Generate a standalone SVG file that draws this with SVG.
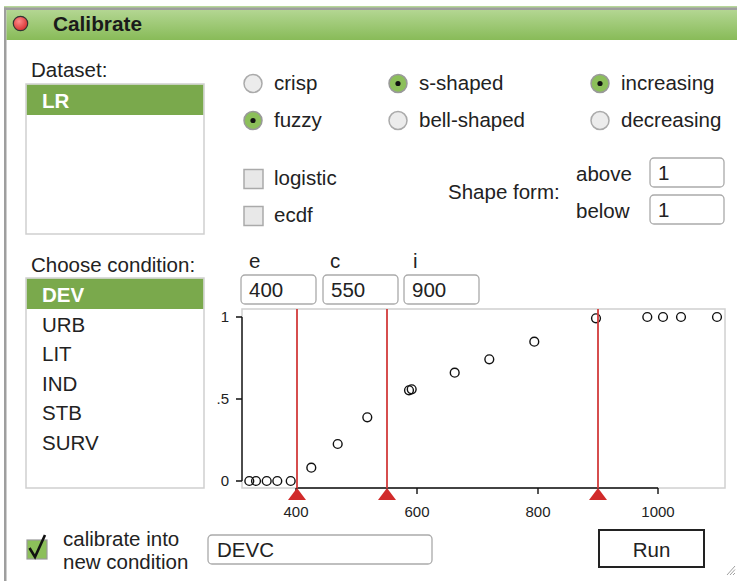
<svg xmlns="http://www.w3.org/2000/svg" width="737" height="581" viewBox="0 0 737 581">
  <defs>
    <linearGradient id="titleGrad" x1="0" y1="0" x2="0" y2="1">
      <stop offset="0" stop-color="#b3d692"/>
      <stop offset="1" stop-color="#88bb58"/>
    </linearGradient>
    <radialGradient id="closeGrad" cx="0.4" cy="0.35" r="0.7">
      <stop offset="0" stop-color="#ff8a8a"/>
      <stop offset="1" stop-color="#d42a2a"/>
    </radialGradient>
    <style>
      text { font-family: "Liberation Sans", Arial, sans-serif; fill: #222; }
      .lbl { font-size: 20.5px; }
      .tick { font-size: 15px; }
      .sel { fill: #fff; font-weight: bold; font-size: 20.5px; }
      .list { fill: #fff; stroke: #cfcfcf; stroke-width: 1.5; }
      .hl { fill: #7aa94c; }
      .radio { fill: #ececec; stroke: #aaa; stroke-width: 1.5; }
      .radio-on { fill: #8cbf5a; stroke: #999; stroke-width: 1.5; }
      .dot { fill: #111; }
      .chk { fill: #e8e8e8; stroke: #aaa; stroke-width: 1.5; }
      .field { fill: #fff; stroke: #aaa; stroke-width: 1.3; }
      .pt { fill: none; stroke: #111; stroke-width: 1.4; }
      .axis { stroke: #111; stroke-width: 1.4; fill: none; }
      .thr { stroke: #d23a3a; stroke-width: 1.8; }
      .tri { fill: #d12a2a; }
    </style>
  </defs>

  <!-- window frame and title bar -->
  <g id="window">
    <rect x="0" y="0" width="737" height="581" fill="#fff"/>
    <rect x="4" y="6" width="733" height="2" fill="#b7d79a"/>
    <rect x="4" y="7.5" width="733" height="2.5" fill="#9e9e9e"/>
    <rect x="4" y="7.5" width="2.5" height="574" fill="#9e9e9e"/>
    <rect x="6.5" y="10" width="731" height="30" fill="url(#titleGrad)"/>
    <circle cx="20.5" cy="23.5" r="7.2" fill="url(#closeGrad)" stroke="#333" stroke-width="1.2"/>
    <text x="53" y="30.5" font-size="20.8" font-weight="bold" style="fill:#1a1a1a">Calibrate</text>
  </g>

  <!-- dataset list -->
  <g id="dataset">
    <text class="lbl" x="31" y="77">Dataset:</text>
    <rect class="list" x="26" y="84" width="178" height="150"/>
    <rect class="hl" x="26.8" y="84.8" width="176.4" height="30.2"/>
    <text class="sel" x="42" y="108">LR</text>
  </g>

  <!-- calibration type radios -->
  <g id="type-radios">
    <circle class="radio" cx="253" cy="83.5" r="9"/>
    <text class="lbl" x="274" y="90">crisp</text>
    <circle class="radio-on" cx="253" cy="120.5" r="9"/>
    <circle class="dot" cx="253" cy="120.5" r="2.6"/>
    <text class="lbl" x="274" y="127">fuzzy</text>
  </g>

  <!-- shape radios -->
  <g id="shape-radios">
    <circle class="radio-on" cx="398" cy="83.5" r="9"/>
    <circle class="dot" cx="398" cy="83.5" r="2.6"/>
    <text class="lbl" x="419" y="90">s-shaped</text>
    <circle class="radio" cx="398" cy="120.5" r="9"/>
    <text class="lbl" x="419" y="127">bell-shaped</text>
  </g>

  <!-- direction radios -->
  <g id="direction-radios">
    <circle class="radio-on" cx="600" cy="83.5" r="9"/>
    <circle class="dot" cx="600" cy="83.5" r="2.6"/>
    <text class="lbl" x="621" y="90">increasing</text>
    <circle class="radio" cx="600" cy="120.5" r="9"/>
    <text class="lbl" x="621" y="127">decreasing</text>
  </g>

  <!-- method checkboxes -->
  <g id="method-checks">
    <rect class="chk" x="244" y="169.5" width="19" height="19"/>
    <text class="lbl" x="274" y="185">logistic</text>
    <rect class="chk" x="244" y="206.5" width="19" height="19"/>
    <text class="lbl" x="274" y="222">ecdf</text>
  </g>

  <!-- shape form inputs -->
  <g id="shape-form">
    <text class="lbl" x="448" y="199">Shape form:</text>
    <text class="lbl" x="576" y="181">above</text>
    <text class="lbl" x="576" y="218">below</text>
    <rect class="field" x="650" y="158" width="74" height="29" rx="4"/>
    <text class="lbl" x="658" y="180">1</text>
    <rect class="field" x="650" y="195" width="74" height="29" rx="4"/>
    <text class="lbl" x="658" y="217">1</text>
  </g>

  <!-- condition list -->
  <g id="conditions">
    <text class="lbl" x="31" y="272">Choose condition:</text>
    <rect class="list" x="26" y="278" width="178" height="210"/>
    <rect class="hl" x="26.8" y="278.8" width="176.4" height="30.2"/>
    <text class="sel" x="42" y="302">DEV</text>
    <text class="lbl" x="42" y="332">URB</text>
    <text class="lbl" x="42" y="361">LIT</text>
    <text class="lbl" x="42" y="391">IND</text>
    <text class="lbl" x="42" y="420">STB</text>
    <text class="lbl" x="42" y="450">SURV</text>
  </g>

  <!-- threshold inputs -->
  <g id="thresholds">
    <text class="lbl" x="249" y="268">e</text>
    <text class="lbl" x="330" y="268">c</text>
    <text class="lbl" x="413" y="268">i</text>
    <rect class="field" x="241" y="275" width="75" height="29" rx="4"/>
    <text class="lbl" x="249" y="297">400</text>
    <rect class="field" x="323" y="275" width="75" height="29" rx="4"/>
    <text class="lbl" x="331" y="297">550</text>
    <rect class="field" x="404" y="275" width="75" height="29" rx="4"/>
    <text class="lbl" x="412" y="297">900</text>
  </g>

  <!-- calibration plot -->
  <g id="plot">
    <rect x="242" y="309" width="483" height="179" fill="#fff" stroke="#d0d0d0" stroke-width="1.5"/>
    <!-- y axis -->
    <path class="axis" d="M242 317 V481 M236 317 H242 M236 399 H242 M236 481 H242"/>
    <text class="tick" x="229" y="322" text-anchor="end">1</text>
    <text class="tick" x="229" y="404" text-anchor="end">.5</text>
    <text class="tick" x="229" y="486" text-anchor="end">0</text>
    <!-- x axis -->
    <path class="axis" d="M296 488 H658 M296 488 V494 M417 488 V494 M538 488 V494 M658 488 V494"/>
    <text class="tick" x="296" y="517" text-anchor="middle">400</text>
    <text class="tick" x="417" y="517" text-anchor="middle">600</text>
    <text class="tick" x="538" y="517" text-anchor="middle">800</text>
    <text class="tick" x="658" y="517" text-anchor="middle">1000</text>
    <!-- data points -->
    <g>
      <circle class="pt" cx="249.3" cy="481" r="4.4"/>
      <circle class="pt" cx="256" cy="481" r="4.4"/>
      <circle class="pt" cx="266.7" cy="481" r="4.4"/>
      <circle class="pt" cx="277.3" cy="481" r="4.4"/>
      <circle class="pt" cx="290.7" cy="481" r="4.4"/>
      <circle class="pt" cx="311.3" cy="467.7" r="4.4"/>
      <circle class="pt" cx="337.7" cy="444" r="4.4"/>
      <circle class="pt" cx="367.3" cy="417.3" r="4.4"/>
      <circle class="pt" cx="409" cy="390.3" r="4.4"/>
      <circle class="pt" cx="411.7" cy="389.3" r="4.4"/>
      <circle class="pt" cx="454.7" cy="372.7" r="4.4"/>
      <circle class="pt" cx="489.3" cy="359.3" r="4.4"/>
      <circle class="pt" cx="534.3" cy="341.7" r="4.4"/>
      <circle class="pt" cx="596" cy="318.3" r="4.4"/>
      <circle class="pt" cx="647.3" cy="317" r="4.4"/>
      <circle class="pt" cx="663" cy="317" r="4.4"/>
      <circle class="pt" cx="681" cy="317" r="4.4"/>
      <circle class="pt" cx="717" cy="317" r="4.4"/>
    </g>
    <!-- threshold markers -->
    <line class="thr" x1="297" y1="309" x2="297" y2="488"/>
    <line class="thr" x1="387" y1="309" x2="387" y2="488"/>
    <line class="thr" x1="598" y1="309" x2="598" y2="488"/>
    <polygon class="tri" points="297,488 288,500 306,500"/>
    <polygon class="tri" points="387,488 378,500 396,500"/>
    <polygon class="tri" points="598,488 589,500 607,500"/>
  </g>

  <!-- new condition option -->
  <g id="new-condition">
    <rect x="27" y="540" width="20" height="19" fill="#8cbf5a" stroke="#999" stroke-width="1.2"/>
    <path d="M29.5 548 L35 557 L45 535" fill="none" stroke="#111" stroke-width="2.6" stroke-linejoin="miter"/>
    <text class="lbl" x="63" y="546">calibrate into</text>
    <text class="lbl" x="63" y="569">new condition</text>
    <rect class="field" x="208" y="535" width="224" height="29" rx="4"/>
    <text class="lbl" x="217" y="557">DEVC</text>
  </g>

  <!-- run button -->
  <g id="run-button">
    <rect x="599" y="530" width="105" height="37" fill="#fff" stroke="#222" stroke-width="2"/>
    <text class="lbl" x="651.5" y="557" text-anchor="middle">Run</text>
  </g>

  <!-- resize grip -->
  <g id="grip" stroke="#888" stroke-width="0.8">
    <line x1="727" y1="575" x2="735" y2="566"/>
    <line x1="730" y1="575" x2="735" y2="569.5"/>
    <line x1="733" y1="575" x2="735" y2="573"/>
  </g>
</svg>
